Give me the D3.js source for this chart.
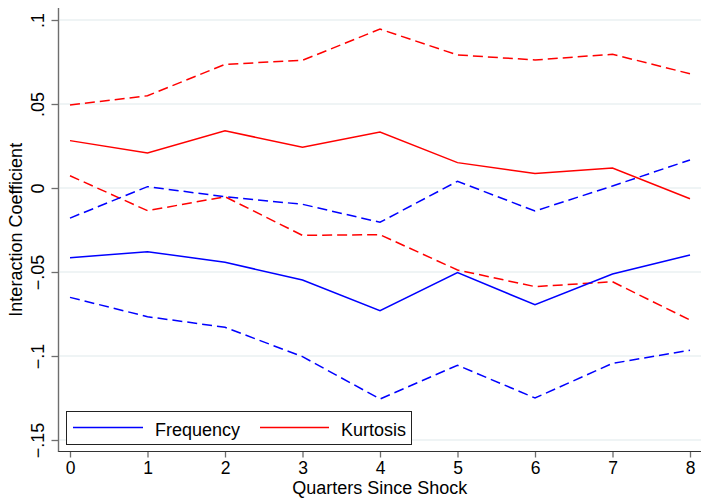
<!DOCTYPE html>
<html>
<head>
<meta charset="utf-8">
<script src="https://cdnjs.cloudflare.com/ajax/libs/d3/7.8.5/d3.min.js"></script>
<style>
  body { margin: 0; background: #fff; }
  svg { display: block; font-family: "Liberation Sans", Arial, sans-serif; }
</style>
</head>
<body>
<svg width="701" height="498"></svg>
<script>
"use strict";

// quarters since shock
const quarters = [0, 1, 2, 3, 4, 5, 6, 7, 8];

// Frequency: coefficient and confidence band
const freqCoef = [-0.0415, -0.0379, -0.0442, -0.0548, -0.073, -0.0504, -0.0695, -0.0512, -0.0399];
const freqLow = [-0.0651, -0.0766, -0.0829, -0.1004, -0.1256, -0.1055, -0.125, -0.1044, -0.0966];
const freqHigh = [-0.0179, 0.0008, -0.0052, -0.0097, -0.0204, 0.004, -0.0137, 0.0012, 0.0167];

// Kurtosis: coefficient and confidence band
const kurtCoef = [0.0282, 0.0208, 0.0341, 0.0242, 0.0333, 0.0151, 0.0087, 0.0119, -0.0064];
const kurtLow = [0.0073, -0.0135, -0.0052, -0.0282, -0.0278, -0.0488, -0.0587, -0.0558, -0.0786];
const kurtHigh = [0.0494, 0.0549, 0.0736, 0.076, 0.0946, 0.0792, 0.0762, 0.0796, 0.068];

const yTicks = [-0.15, -0.1, -0.05, 0, 0.05, 0.1];
const legendLabels = ["Frequency", "Kurtosis"];

const svg = d3.select("svg");
const width = +svg.attr("width");

// plot frame
const plotLeft = 58.5, plotTop = 8, plotBottom = 451.5, plotRight = width;

const xScale = d3.scaleLinear().domain([0, 8]).range([70, 690]);
const yScale = d3.scaleLinear().domain([-0.15, 0.1]).range([440, 20]);

// stata-ish labels: .05, −.1 ...
const fmtY = (d) => {
  if (d === 0) return "0";
  const s = String(+Math.abs(d).toFixed(2)).replace(/^0/, "");
  return (d < 0 ? "\u2212" : "") + s;
};

// gridlines
svg.append("g")
  .selectAll("line")
  .data(yTicks)
  .enter()
  .append("line")
  .attr("x1", plotLeft + 1)
  .attr("x2", plotRight)
  .attr("y1", (d) => yScale(d))
  .attr("y2", (d) => yScale(d))
  .attr("stroke", "#eaf1f2")
  .attr("stroke-width", 1.5);

// y axis
const yAxis = d3.axisLeft(yScale).tickValues(yTicks).tickFormat(fmtY).tickSize(7);
const yAxisG = svg.append("g")
  .attr("transform", `translate(${plotLeft},0)`)
  .call(yAxis);
yAxisG.select(".domain").remove();
yAxisG.selectAll(".tick line").attr("stroke", "#6e6e6e").attr("stroke-width", 1.3);
yAxisG.selectAll(".tick text")
  .attr("x", null)
  .attr("dy", null)
  .attr("transform", "translate(-15,0) rotate(-90)")
  .attr("text-anchor", "middle")
  .attr("fill", "#000")
  .style("font-size", "18px")
  .style("font-family", "Liberation Sans, Arial, sans-serif");
svg.append("line")
  .attr("x1", plotLeft).attr("x2", plotLeft)
  .attr("y1", plotTop).attr("y2", plotBottom + 0.5)
  .attr("stroke", "#6e6e6e")
  .attr("stroke-width", 1.4);

// x axis
const xAxis = d3.axisBottom(xScale).tickValues(quarters).tickFormat(d3.format("d")).tickSize(6);
const xAxisG = svg.append("g")
  .attr("transform", `translate(0,${plotBottom})`)
  .call(xAxis);
xAxisG.select(".domain").remove();
xAxisG.selectAll(".tick line").attr("stroke", "#6e6e6e").attr("stroke-width", 1.3);
xAxisG.selectAll(".tick text")
  .attr("y", 22.5)
  .attr("dy", null)
  .attr("fill", "#000")
  .style("font-size", "17.5px")
  .style("font-family", "Liberation Sans, Arial, sans-serif");
svg.append("line")
  .attr("x1", plotLeft).attr("x2", plotRight)
  .attr("y1", plotBottom).attr("y2", plotBottom)
  .attr("stroke", "#333")
  .attr("stroke-width", 1.2);

// axis titles
svg.append("text")
  .text("Interaction Coefficient")
  .attr("transform", `translate(22,${(plotTop + plotBottom) / 2}) rotate(-90)`)
  .attr("text-anchor", "middle")
  .style("font-size", "18px");

svg.append("text")
  .text("Quarters Since Shock")
  .attr("x", (plotLeft + plotRight) / 2)
  .attr("y", 494)
  .attr("text-anchor", "middle")
  .style("font-size", "18px");

// lines
const lineGen = (vals) => d3.line()
  .x((d) => xScale(d))
  .y((d, i) => yScale(vals[i]))(quarters);

const series = [
  { vals: kurtHigh, color: "#ff0000", dash: "10,5" },
  { vals: kurtLow, color: "#ff0000", dash: "10,5" },
  { vals: freqHigh, color: "#0000ff", dash: "10,5" },
  { vals: freqLow, color: "#0000ff", dash: "10,5" },
  { vals: kurtCoef, color: "#ff0000", dash: null },
  { vals: freqCoef, color: "#0000ff", dash: null },
];

svg.append("g")
  .selectAll("path")
  .data(series)
  .enter()
  .append("path")
  .attr("d", (d) => lineGen(d.vals))
  .attr("fill", "none")
  .attr("stroke", (d) => d.color)
  .attr("stroke-width", 1.5)
  .attr("stroke-dasharray", (d) => d.dash);

// legend
const legend = svg.append("g");
legend.append("rect")
  .attr("x", 66.5).attr("y", 411.5)
  .attr("width", 345).attr("height", 33)
  .attr("fill", "#fff")
  .attr("stroke", "#222")
  .attr("stroke-width", 1);

const legendItems = [
  { label: legendLabels[0], color: "#0000ff", x1: 73, x2: 143, tx: 155 },
  { label: legendLabels[1], color: "#ff0000", x1: 260, x2: 329, tx: 341 },
];
legendItems.forEach((it) => {
  legend.append("line")
    .attr("x1", it.x1).attr("x2", it.x2)
    .attr("y1", 427.5).attr("y2", 427.5)
    .attr("stroke", it.color)
    .attr("stroke-width", 1.5);
  legend.append("text")
    .text(it.label)
    .attr("x", it.tx)
    .attr("y", 436)
    .style("font-size", "18px");
});
</script>
</body>
</html>
